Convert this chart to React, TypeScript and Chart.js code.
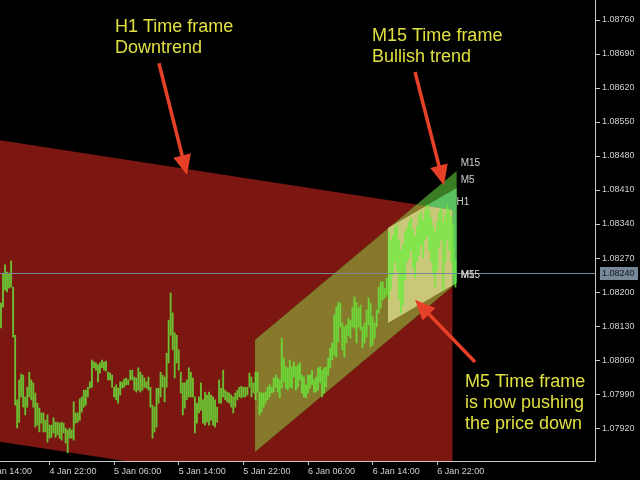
import React, { useEffect, useRef } from "react";
import { Chart, registerables } from "chart.js";

Chart.register(...registerables);

// EURUSD M15 bars, bar 0 = 4 Jan 16:00 (one bar per 15 minutes)
const barHigh = [
  1.08177, 1.08239, 1.08256, 1.08241, 1.08239, 1.08264, 1.08210, 1.08111, 1.07978, 1.08019,
  1.08031, 1.08029, 1.07984, 1.08004, 1.08035, 1.08019, 1.08013, 1.07992, 1.07971, 1.07961,
  1.07951, 1.07951, 1.07936, 1.07947, 1.07926, 1.07926, 1.07941, 1.07932, 1.07932, 1.07930,
  1.07932, 1.07930, 1.07920, 1.07916, 1.07920, 1.07916, 1.07974, 1.07951, 1.07951, 1.07980,
  1.07984, 1.07998, 1.07998, 1.08004, 1.08015, 1.08060, 1.08056, 1.08054, 1.08050, 1.08054,
  1.08060, 1.08056, 1.08058, 1.08035, 1.08033, 1.08029, 1.08004, 1.08009, 1.08002, 1.08015,
  1.08015, 1.08021, 1.08023, 1.08019, 1.08039, 1.08039, 1.08025, 1.08023, 1.08044, 1.08035,
  1.08029, 1.08023, 1.08015, 1.08025, 1.08004, 1.07967, 1.07963, 1.08002, 1.08002, 1.08035,
  1.08029, 1.08025, 1.08074, 1.08142, 1.08198, 1.08157, 1.08116, 1.08111, 1.08081, 1.08035,
  1.08013, 1.08013, 1.08019, 1.08044, 1.08035, 1.08023, 1.07984, 1.07971, 1.07984, 1.08013,
  1.07978, 1.07994, 1.07988, 1.07994, 1.07988, 1.07984, 1.07978, 1.07963, 1.08019, 1.08002,
  1.08039, 1.07998, 1.07994, 1.07992, 1.07988, 1.07984, 1.07992, 1.07998, 1.08004, 1.08006,
  1.08004, 1.08004, 1.08004, 1.08033, 1.08025, 1.08013, 1.08035, 1.08035, 1.07994, 1.07992,
  1.07992, 1.07994, 1.08004, 1.08009, 1.08004, 1.08023, 1.08029, 1.08023, 1.08019, 1.08105,
  1.08064, 1.08046, 1.08044, 1.08060, 1.08046, 1.08056, 1.08046, 1.08050, 1.08054, 1.08029,
  1.08025, 1.08009, 1.08029, 1.08029, 1.08039, 1.08019, 1.08025, 1.08044, 1.08046, 1.08039,
  1.08044, 1.08046, 1.08064, 1.08085, 1.08095, 1.08153, 1.08169, 1.08179, 1.08177, 1.08136,
  1.08128, 1.08132, 1.08146, 1.08142, 1.08169, 1.08190, 1.08179, 1.08167, 1.08173, 1.08128,
  1.08136, 1.08163, 1.08188, 1.08177, 1.08149, 1.08136, 1.08163, 1.08210, 1.08221, 1.08221,
  1.08208, 1.08229, 1.08324, 1.08307, 1.08317, 1.08332, 1.08338, 1.08307, 1.08286, 1.08297,
  1.08324, 1.08332, 1.08344, 1.08352, 1.08328, 1.08315, 1.08336, 1.08359, 1.08365, 1.08348,
  1.08369, 1.08379, 1.08369, 1.08352, 1.08336, 1.08324, 1.08344, 1.08365, 1.08373, 1.08344,
  1.08359, 1.08379, 1.08369, 1.08356, 1.08338, 1.08266,
];
const barLow = [
  1.08126, 1.08169, 1.08204, 1.08200, 1.08208, 1.08210, 1.08107, 1.07967, 1.07920, 1.07932,
  1.07984, 1.07963, 1.07947, 1.07963, 1.07984, 1.07978, 1.07963, 1.07922, 1.07926, 1.07912,
  1.07930, 1.07912, 1.07912, 1.07891, 1.07899, 1.07901, 1.07910, 1.07901, 1.07906, 1.07899,
  1.07895, 1.07910, 1.07889, 1.07869, 1.07899, 1.07899, 1.07895, 1.07930, 1.07932, 1.07936,
  1.07953, 1.07963, 1.07967, 1.07984, 1.08002, 1.08004, 1.08044, 1.08039, 1.08015, 1.08033,
  1.08044, 1.08039, 1.08037, 1.08019, 1.08019, 1.08004, 1.07984, 1.07978, 1.07971, 1.07988,
  1.08002, 1.08004, 1.08009, 1.08009, 1.08019, 1.08019, 1.07998, 1.07994, 1.07998, 1.07994,
  1.07998, 1.08004, 1.08002, 1.07998, 1.07963, 1.07899, 1.07912, 1.07922, 1.07971, 1.07984,
  1.08004, 1.07974, 1.08004, 1.08054, 1.08111, 1.08081, 1.08023, 1.08054, 1.08039, 1.07992,
  1.07947, 1.07961, 1.07978, 1.07984, 1.07984, 1.07984, 1.07910, 1.07930, 1.07951, 1.07957,
  1.07930, 1.07926, 1.07932, 1.07926, 1.07936, 1.07926, 1.07922, 1.07932, 1.07971, 1.07971,
  1.07984, 1.07978, 1.07974, 1.07971, 1.07963, 1.07951, 1.07963, 1.07978, 1.07984, 1.07982,
  1.07984, 1.07984, 1.07988, 1.08004, 1.07984, 1.07992, 1.07978, 1.07994, 1.07947, 1.07953,
  1.07963, 1.07971, 1.07978, 1.07984, 1.07992, 1.07994, 1.08004, 1.07994, 1.07982, 1.08002,
  1.08015, 1.08002, 1.07998, 1.08004, 1.08002, 1.08025, 1.07998, 1.08004, 1.08019, 1.07992,
  1.07984, 1.07982, 1.07992, 1.08002, 1.08009, 1.07994, 1.07994, 1.07998, 1.08013, 1.07984,
  1.07992, 1.08004, 1.08029, 1.08044, 1.08060, 1.08070, 1.08066, 1.08097, 1.08128, 1.08081,
  1.08066, 1.08095, 1.08111, 1.08105, 1.08128, 1.08126, 1.08095, 1.08128, 1.08122, 1.08085,
  1.08095, 1.08107, 1.08132, 1.08087, 1.08091, 1.08105, 1.08128, 1.08157, 1.08167, 1.08184,
  1.08188, 1.08194, 1.08184, 1.08204, 1.08235, 1.08262, 1.08245, 1.08184, 1.08157, 1.08173,
  1.08225, 1.08262, 1.08270, 1.08286, 1.08249, 1.08229, 1.08262, 1.08276, 1.08297, 1.08270,
  1.08307, 1.08315, 1.08286, 1.08262, 1.08235, 1.08210, 1.08245, 1.08291, 1.08307, 1.08204,
  1.08262, 1.08307, 1.08286, 1.08262, 1.08235, 1.08210,
];

// Axes
const xTickBars = [-8, 24, 56, 88, 120, 152, 184, 216];
const xTickLabels = ["4 Jan 14:00", "4 Jan 22:00", "5 Jan 06:00", "5 Jan 14:00", "5 Jan 22:00", "6 Jan 06:00", "6 Jan 14:00", "6 Jan 22:00"];
const xRange = [-0.5, 294.1];
const yTickValues = [1.0792, 1.0799, 1.0806, 1.0813, 1.082, 1.0827, 1.0834, 1.0841, 1.0848, 1.0855, 1.0862, 1.0869, 1.0876];
const yRange = [1.078521, 1.088012];
const bidPrice = 1.0824;

// Regression channels: [startBar, endBar], upper [start, end], lower [start, end]
const h1Bars = [-1, 223.5];
const h1Upper = [1.08513, 1.08369];
const h1Lower = [1.07892, 1.07748];
const m15Bars = [125.8, 225.6];
const m15Upper = [1.08101, 1.08449];
const m15Lower = [1.07871, 1.08219];
const m5Bars = [191.6, 225.6];
const m5Upper = [1.08332, 1.08414];
const m5Lower = [1.08136, 1.08219];

// Annotations: [bar, price] anchors
const noteH1 = ["H1 Time frame", "Downtrend"];
const noteH1At = [56.4, 1.08735];
const noteM15 = ["M15 Time frame", "Bullish trend"];
const noteM15At = [183.7, 1.08717];
const noteM5 = ["M5 Time frame", "is now pushing", "the price down"];
const noteM5At = [229.7, 1.08004];
// arrows: [fromBar, fromPrice, toBar, toPrice]
const arrows = [
  [78.2, 1.08671, 92.1, 1.08441],
  [205.0, 1.08653, 219.3, 1.0842],
  [234.7, 1.08056, 205.0, 1.08184],
];

const COLORS = {
  red: "#7b1610",
  olive: "#86792b",
  darkGreen: "#3a7d22",
  lightGreen: "#5cc060",
  lightYellow: "#c8c878",
  bars: "rgba(104,240,60,0.78)",
  axis: "#c8c8c8",
  bid: "#778899",
  note: "#e0e040",
  arrow: "#e64128",
};

export default function App() {
  const ref = useRef<HTMLCanvasElement>(null);

  useEffect(() => {
    const canvas = ref.current!;
    const bars = barHigh.map((h, i) => ({ x: i, y: [barLow[i], h] }));

    const bgPlugin = {
      id: "bg",
      beforeDraw(chart: any) {
        const c = chart.ctx;
        c.save();
        c.fillStyle = "#000";
        c.fillRect(0, 0, chart.width, chart.height);
        c.restore();
      },
    };

    const channelPath = (x: any, y: any, b: number[], up: number[], lo: number[]) => {
      const p = new Path2D();
      p.moveTo(x.getPixelForValue(b[0]), y.getPixelForValue(up[0]));
      p.lineTo(x.getPixelForValue(b[1]), y.getPixelForValue(up[1]));
      p.lineTo(x.getPixelForValue(b[1]), y.getPixelForValue(lo[1]));
      p.lineTo(x.getPixelForValue(b[0]), y.getPixelForValue(lo[0]));
      p.closePath();
      return p;
    };

    const overlay = {
      id: "overlay",
      beforeDatasetsDraw(chart: any) {
        const { ctx, chartArea: a, scales } = chart;
        const { x, y } = scales;
        const h1 = channelPath(x, y, h1Bars, h1Upper, h1Lower);
        const m15 = channelPath(x, y, m15Bars, m15Upper, m15Lower);
        const m5 = channelPath(x, y, m5Bars, m5Upper, m5Lower);
        ctx.save();
        ctx.beginPath();
        ctx.rect(a.left, a.top, a.right - a.left, a.bottom - a.top);
        ctx.clip();
        ctx.fillStyle = COLORS.red;
        ctx.fill(h1);
        ctx.fillStyle = COLORS.darkGreen;
        ctx.fill(m15);
        ctx.fillStyle = COLORS.lightGreen;
        ctx.fill(m5);
        ctx.save();
        ctx.clip(h1);
        ctx.fillStyle = COLORS.olive;
        ctx.fill(m15);
        ctx.fillStyle = COLORS.lightYellow;
        ctx.fill(m5);
        ctx.restore();
        ctx.restore();
      },
      afterDatasetsDraw(chart: any) {
        const { ctx, chartArea: a, scales } = chart;
        const { x, y } = scales;
        ctx.save();
        // bid line
        const yb = y.getPixelForValue(bidPrice);
        const ybr = Math.round(yb) + 0.5;
        ctx.strokeStyle = COLORS.bid;
        ctx.lineWidth = 1;
        ctx.beginPath();
        ctx.moveTo(a.left, ybr);
        ctx.lineTo(a.right, ybr);
        ctx.stroke();

        // channel labels
        ctx.save();
        ctx.beginPath();
        ctx.rect(a.left, a.top, a.right - a.left, a.bottom - a.top);
        ctx.clip();
        ctx.font = '10px "Liberation Sans"';
        ctx.fillStyle = "#d0d0d0";
        ctx.textAlign = "left";
        ctx.textBaseline = "alphabetic";
        const lab = (name: string, bar: number, price: number) => {
          ctx.fillText(name, x.getPixelForValue(bar) + 4, y.getPixelForValue(price) - 5);
        };
        lab("M15", m15Bars[1], m15Upper[1]);
        lab("M5", m5Bars[1], m5Upper[1]);
        lab("H1", h1Bars[1], h1Upper[1]);
        lab("M5", m5Bars[1], m5Lower[1]);
        lab("M15", m15Bars[1], m15Lower[1]);
        lab("H1", h1Bars[1], h1Lower[1]);
        ctx.restore();

        // arrows
        for (const [b0, p0, b1, p1] of arrows) {
          const x0 = x.getPixelForValue(b0);
          const y0 = y.getPixelForValue(p0);
          const x1 = x.getPixelForValue(b1);
          const y1 = y.getPixelForValue(p1);
          const dx = x1 - x0;
          const dy = y1 - y0;
          const len = Math.hypot(dx, dy);
          const ux = dx / len;
          const uy = dy / len;
          const hl = 20;
          const hw = 9;
          const bx = x1 - ux * hl;
          const by = y1 - uy * hl;
          ctx.strokeStyle = COLORS.arrow;
          ctx.lineWidth = 3.5;
          ctx.beginPath();
          ctx.moveTo(x0, y0);
          ctx.lineTo(bx + ux * 2, by + uy * 2);
          ctx.stroke();
          ctx.fillStyle = COLORS.arrow;
          ctx.beginPath();
          ctx.moveTo(x1, y1);
          ctx.lineTo(bx - uy * hw, by + ux * hw);
          ctx.lineTo(bx + uy * hw, by - ux * hw);
          ctx.closePath();
          ctx.fill();
        }

        // notes
        ctx.font = '18px "Liberation Sans"';
        ctx.fillStyle = COLORS.note;
        ctx.textAlign = "left";
        ctx.textBaseline = "alphabetic";
        const note = (lines: string[], at: number[], lh: number) => {
          const px = x.getPixelForValue(at[0]);
          const py = y.getPixelForValue(at[1]);
          lines.forEach((t, k) => ctx.fillText(t, px, py + k * lh));
        };
        note(noteH1, noteH1At, 20.5);
        note(noteM15, noteM15At, 21);
        note(noteM5, noteM5At, 20.8);

        // bid price box on the axis
        ctx.fillStyle = COLORS.bid;
        ctx.fillRect(a.right + 5, Math.round(yb) - 6, 38, 13);
        ctx.fillStyle = "#101418";
        ctx.font = '9px "Liberation Sans"';
        ctx.textBaseline = "middle";
        ctx.fillText(bidPrice.toFixed(5), a.right + 7, Math.round(yb) + 0.5);
        ctx.restore();
      },
    };

    const tickFont = { family: "Liberation Sans", size: 9 };

    const chart = new Chart(canvas, {
      type: "bar",
      data: {
        datasets: [
          {
            data: bars as any,
            backgroundColor: COLORS.bars,
            borderWidth: 0,
            barThickness: 1.2,
            grouped: false,
          } as any,
        ],
      },
      options: {
        animation: false,
        responsive: false,
        devicePixelRatio: 1,
        events: [],
        layout: { padding: 0 },
        plugins: { legend: { display: false }, tooltip: { enabled: false } },
        scales: {
          x: {
            type: "linear",
            min: xRange[0],
            max: xRange[1],
            offset: false,
            position: "bottom",
            grid: { offset: false, drawOnChartArea: false, drawTicks: true, tickLength: 4, color: COLORS.axis, lineWidth: 1 },
            border: { display: true, color: COLORS.axis, width: 1 },
            ticks: {
              autoSkip: false,
              maxRotation: 0,
              minRotation: 0,
              align: "start",
              padding: 1,
              color: "#d0d0d0",
              font: tickFont,
              callback: (v: any) => {
                const k = xTickBars.indexOf(Number(v));
                return k >= 0 ? xTickLabels[k] : "";
              },
            },
            afterBuildTicks: (s: any) => {
              s.ticks = xTickBars.map((v) => ({ value: v }));
            },
            afterFit: (s: any) => {
              s.height = 19;
              s.paddingLeft = 0;
              s.paddingRight = 0;
            },
          } as any,
          y: {
            type: "linear",
            position: "right",
            min: yRange[0],
            max: yRange[1],
            grid: { drawOnChartArea: false, drawTicks: true, tickLength: 5, color: COLORS.axis },
            border: { display: true, color: COLORS.axis, width: 1 },
            ticks: {
              padding: 2,
              color: "#d0d0d0",
              font: tickFont,
              callback: (v: any) => Number(v).toFixed(5),
            },
            afterBuildTicks: (s: any) => {
              s.ticks = yTickValues.map((v) => ({ value: v }));
            },
            afterFit: (s: any) => {
              s.width = 45;
              s.paddingTop = 0;
              s.paddingBottom = 0;
            },
          } as any,
        },
      },
      plugins: [bgPlugin, overlay],
    });
    return () => chart.destroy();
  }, []);

  return (
    <div style={{ position: "fixed", left: 0, top: 0, width: 640, height: 480, background: "#000" }}>
      <canvas ref={ref} width={640} height={480} style={{ display: "block" }} />
    </div>
  );
}
